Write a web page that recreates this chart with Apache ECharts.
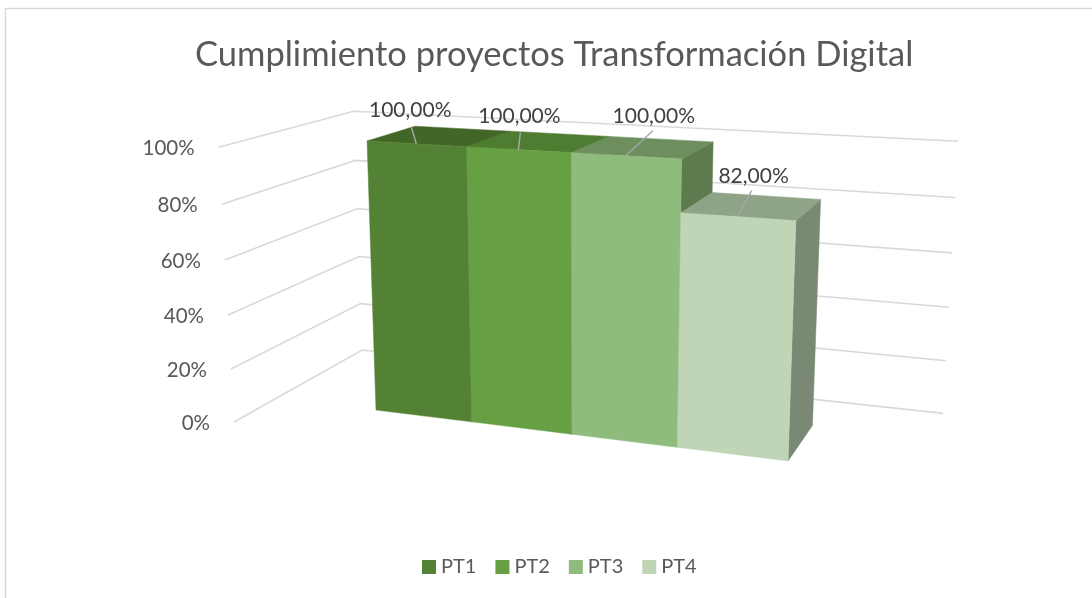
<!DOCTYPE html>
<html lang="es">
<head>
    <meta charset="UTF-8">
    <title>Cumplimiento proyectos</title>
    <style>
        html, body { margin: 0; padding: 0; background: #fff; }
        #main { width: 1092px; height: 598px; }
    </style>
</head>
<body>
<div id="main"></div>
<script src="https://cdn.jsdelivr.net/npm/echarts@6/dist/echarts.min.js"></script>
<script>
    var titleText = 'Cumplimiento proyectos Transformación Digital';
    var categories = ['PT1', 'PT2', 'PT3', 'PT4'];
    var values = [100, 100, 100, 82];
    var valueLabels = ['100,00%', '100,00%', '100,00%', '82,00%'];
    var yTicks = [0, 20, 40, 60, 80, 100];
    var yTickLabels = ['0%', '20%', '40%', '60%', '80%', '100%'];

    var frontColors = ['#548235', '#67A044', '#8FBB7C', '#BFD5B5'];
    var topColors = ['#426528', '#4E7D31', '#6D8F5E', '#8FA387'];
    var sideColors = ['#426528', '#4E7D31', '#5D7B4E', '#7A8973'];

    // leader line end and label centre, relative to the middle of the bar's front top edge
    var leaderOffsets = [[-5, -17], [2, -17], [27, -25], [14, -26]];
    var labelOffsets = [[-6, -34], [1, -33], [28, -39], [16, -40]];

    // plot box in bar units: x = category position, z = depth (bar runs 0..1)
    var wallLeft = -1.085, wallRight = 5.08, wallFront = -0.778, wallBack = 1.774;
    var fontName = 'Lato';

    // x/y go through the axes, then the 3D view is applied
    function project(api, x, y, z) {
        var c = api.coord([x, y]);
        var u = wallLeft + (c[0] - 100) / 892 * (wallRight - wallLeft);
        var v = (498 - c[1]) / 398 * 100;
        var d = 1 - 0.02325 * u - 0.00041 * v + 0.0601 * z;
        return [
            (376 + 84.7 * u - 0.24 * v + 70.9 * z) / d,
            (410 + 2.03 * u - 2.748 * v - 6.6 * z) / d
        ];
    }

    function renderWall(params, api) {
        var i = params.dataIndex;
        var tick = api.value(1);
        var a = project(api, wallLeft, tick, wallFront);
        var b = project(api, wallLeft, tick, wallBack);
        var c = project(api, wallRight, tick, wallBack);
        return {
            type: 'group',
            children: [{
                type: 'polyline',
                shape: { points: [a, b, c] },
                style: { stroke: '#D9D9D9', lineWidth: 1.6, fill: null }
            }, {
                type: 'text',
                style: {
                    text: yTickLabels[i], x: a[0] - 24, y: a[1] + 1.5,
                    align: 'right', verticalAlign: 'middle',
                    fontFamily: fontName, fontSize: 20.5, fill: '#595959'
                }
            }]
        };
    }

    function renderBar(params, api) {
        var i = api.value(0), v = api.value(1);
        var s = params.seriesIndex - 1;
        var f0 = project(api, i, 0, 0), f1 = project(api, i + 1, 0, 0);
        var t0 = project(api, i, v, 0), t1 = project(api, i + 1, v, 0);
        var b0 = project(api, i, v, 1), b1 = project(api, i + 1, v, 1);
        var r0 = project(api, i + 1, 0, 1);
        function face(points, color) {
            return { type: 'polygon', shape: { points: points }, style: { fill: color, stroke: color, lineWidth: 0.5 } };
        }
        return {
            type: 'group',
            children: [
                face([f1, r0, b1, t1], sideColors[s]),
                face([t0, t1, b1, b0], topColors[s]),
                face([f0, f1, t1, t0], frontColors[s])
            ]
        };
    }

    // labels sit in their own series so that later bars never cover them
    function renderLabel(params, api) {
        var s = params.dataIndex;
        var mid = project(api, api.value(0) + 0.5, api.value(1), 0);
        var end = [mid[0] + leaderOffsets[s][0], mid[1] + leaderOffsets[s][1]];
        return {
            type: 'group',
            children: [{
                type: 'line',
                shape: { x1: mid[0], y1: mid[1], x2: end[0], y2: end[1] },
                style: { stroke: '#A6A6A6', lineWidth: 1.5 }
            }, {
                type: 'text',
                style: {
                    text: valueLabels[s], x: mid[0] + labelOffsets[s][0], y: mid[1] + labelOffsets[s][1],
                    align: 'center', verticalAlign: 'middle',
                    fontFamily: fontName, fontSize: 21, fill: '#404040'
                }
            }]
        };
    }

    var seriesList = [{
        type: 'custom',
        name: 'walls',
        silent: true,
        renderItem: renderWall,
        data: yTicks.map(function (t) { return [0, t]; })
    }];
    categories.forEach(function (name, i) {
        seriesList.push({
            type: 'custom',
            name: name,
            silent: true,
            itemStyle: { color: frontColors[i] },
            renderItem: renderBar,
            data: [[i, values[i]]]
        });
    });
    seriesList.push({
        type: 'custom',
        name: 'labels',
        silent: true,
        renderItem: renderLabel,
        data: values.map(function (v, i) { return [i, v]; })
    });

    var myChart = echarts.init(document.getElementById('main'));
    myChart.setOption({
        animation: false,
        backgroundColor: '#fff',
        title: {
            text: titleText,
            left: 190,
            top: 32,
            textStyle: { fontFamily: fontName, fontSize: 34.5, fontWeight: 'normal', color: '#595959' }
        },
        legend: {
            data: categories,
            icon: 'rect',
            left: 417,
            top: 552,
            itemWidth: 14,
            itemHeight: 14,
            itemGap: 19,
            textStyle: { fontFamily: fontName, fontSize: 20, color: '#595959' }
        },
        grid: { left: 100, width: 892, top: 100, height: 398 },
        xAxis: { type: 'value', min: wallLeft, max: wallRight, show: false },
        yAxis: { type: 'value', min: 0, max: 100, interval: 20, show: false },
        graphic: [{
            type: 'polyline',
            silent: true,
            shape: { points: [[5.5, 598], [5.5, 8.5], [1092, 8.5]] },
            style: { stroke: '#D9D9D9', lineWidth: 1.5, fill: null }
        }],
        series: seriesList
    });
</script>
</body>
</html>
